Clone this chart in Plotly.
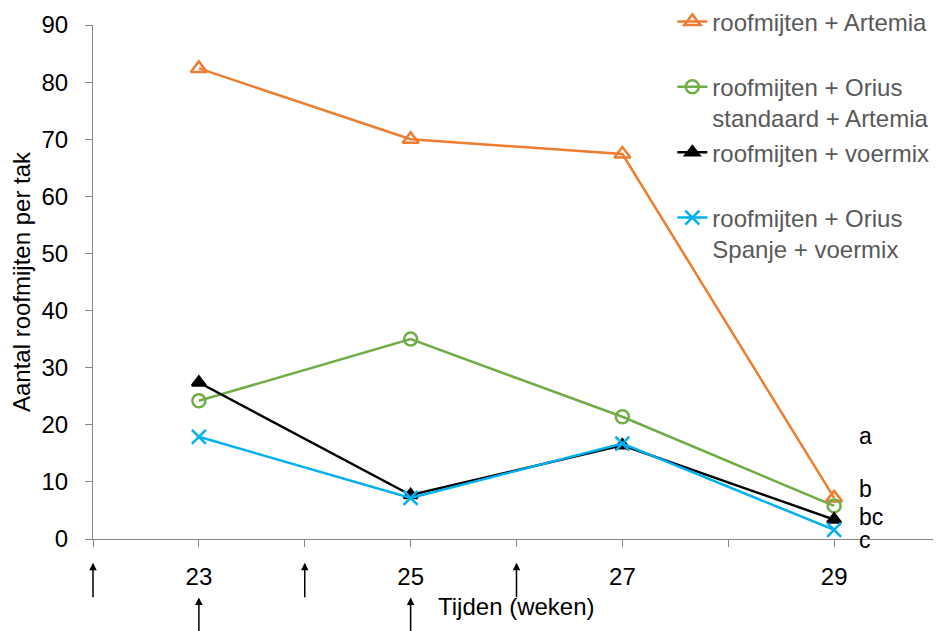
import plotly.graph_objects as go

# weken en gemeten aantallen
weeks = [23, 25, 27, 29]
artemia = [82.4, 70.0, 67.4, 7.2]
orius_std_artemia = [24.2, 35.0, 21.4, 5.8]
voermix = [27.4, 7.7, 16.4, 3.4]
orius_spanje_voermix = [17.9, 7.2, 16.7, 1.6]

series_names = [
    "roofmijten + Artemia<br> ",
    "roofmijten + Orius<br>standaard + Artemia",
    "roofmijten + voermix<br> ",
    "roofmijten + Orius<br>Spanje + voermix",
]

# significantie letters (week 29)
letters = ["a", "b", "bc", "c"]
letter_y = [18.1, 8.7, 3.9, -0.2]

# tijdstippen van introductie (pijlen)
upper_arrow_weeks = [22, 24, 26]
lower_arrow_weeks = [23, 25]

tick_vals = [22, 23, 24, 25, 26, 27, 28, 29, 30]
tick_text = ["", "23", "", "25", "", "27", "", "29", ""]

FONT = "Liberation Sans, Arial, sans-serif"
Y_MAX = 90

fig = go.Figure()

styles = [
    dict(color="#ED7D31", symbol="triangle-up-open", size=14),
    dict(color="#70AD47", symbol="circle-open", size=13),
    dict(color="#000000", symbol="triangle-up", size=12),
    dict(color="#00B0F0", symbol="x-thin-open", size=14),
]

for name, vals, st in zip(series_names, [artemia, orius_std_artemia, voermix, orius_spanje_voermix], styles):
    fig.add_trace(go.Scatter(
        x=weeks, y=vals, name=name, mode="lines+markers",
        line=dict(color=st["color"], width=2.5),
        marker=dict(color=st["color"], symbol=st["symbol"], size=st["size"],
                    line=dict(color=st["color"], width=2.5)),
    ))

annotations = []
for w in upper_arrow_weeks:
    annotations.append(dict(x=w, xref="x", y=-0.046, yref="paper", text="",
                            showarrow=True, ax=0, ay=36, arrowhead=2, arrowsize=1,
                            arrowwidth=1.5, arrowcolor="black", standoff=0))
for w in lower_arrow_weeks:
    annotations.append(dict(x=w, xref="x", y=-0.114, yref="paper", text="",
                            showarrow=True, ax=0, ay=40, arrowhead=2, arrowsize=1,
                            arrowwidth=1.5, arrowcolor="black", standoff=0))
for lt, ly in zip(letters, letter_y):
    # paper-referentie zodat "c" onder de as niet wegvalt
    annotations.append(dict(x=29.22, xref="x", y=ly / Y_MAX, yref="paper", text=lt,
                            showarrow=False, xanchor="left", yanchor="middle",
                            font=dict(family=FONT, size=23, color="black")))
annotations.append(dict(x=0.5, xref="paper", y=-0.131, yref="paper", text="Tijden (weken)",
                        showarrow=False, xanchor="center", yanchor="middle",
                        font=dict(family=FONT, size=24, color="black")))

# pagina heeft 8px body-marge, daarom l/t kleiner en r/b groter
fig.update_layout(
    width=941, height=631,
    margin=dict(l=85, r=9, t=17, b=100, autoexpand=False),
    paper_bgcolor="white", plot_bgcolor="white",
    font=dict(family=FONT, size=23, color="black"),
    legend=dict(x=0.684, y=1.05, xanchor="left", yanchor="top",
                valign="top", bgcolor="rgba(0,0,0,0)",
                font=dict(family=FONT, size=24, color="#595959")),
    annotations=annotations,
)

fig.update_xaxes(range=[22, 30], tickvals=tick_vals, ticktext=tick_text,
                 showgrid=False, zeroline=False, showline=True, linecolor="#868686",
                 linewidth=1, ticks="outside", ticklen=7, tickcolor="#868686",
                 ticklabelstandoff=9, tickfont=dict(size=24), automargin=False)
fig.update_yaxes(range=[0, Y_MAX], dtick=10, showgrid=False, zeroline=False,
                 showline=True, linecolor="#868686", linewidth=1,
                 ticks="outside", ticklen=7, tickcolor="#868686",
                 ticklabelstandoff=12, tickfont=dict(size=24), automargin=False,
                 title=dict(text="Aantal roofmijten per tak", standoff=8,
                            font=dict(size=24)))

fig.write_html("out.html")
